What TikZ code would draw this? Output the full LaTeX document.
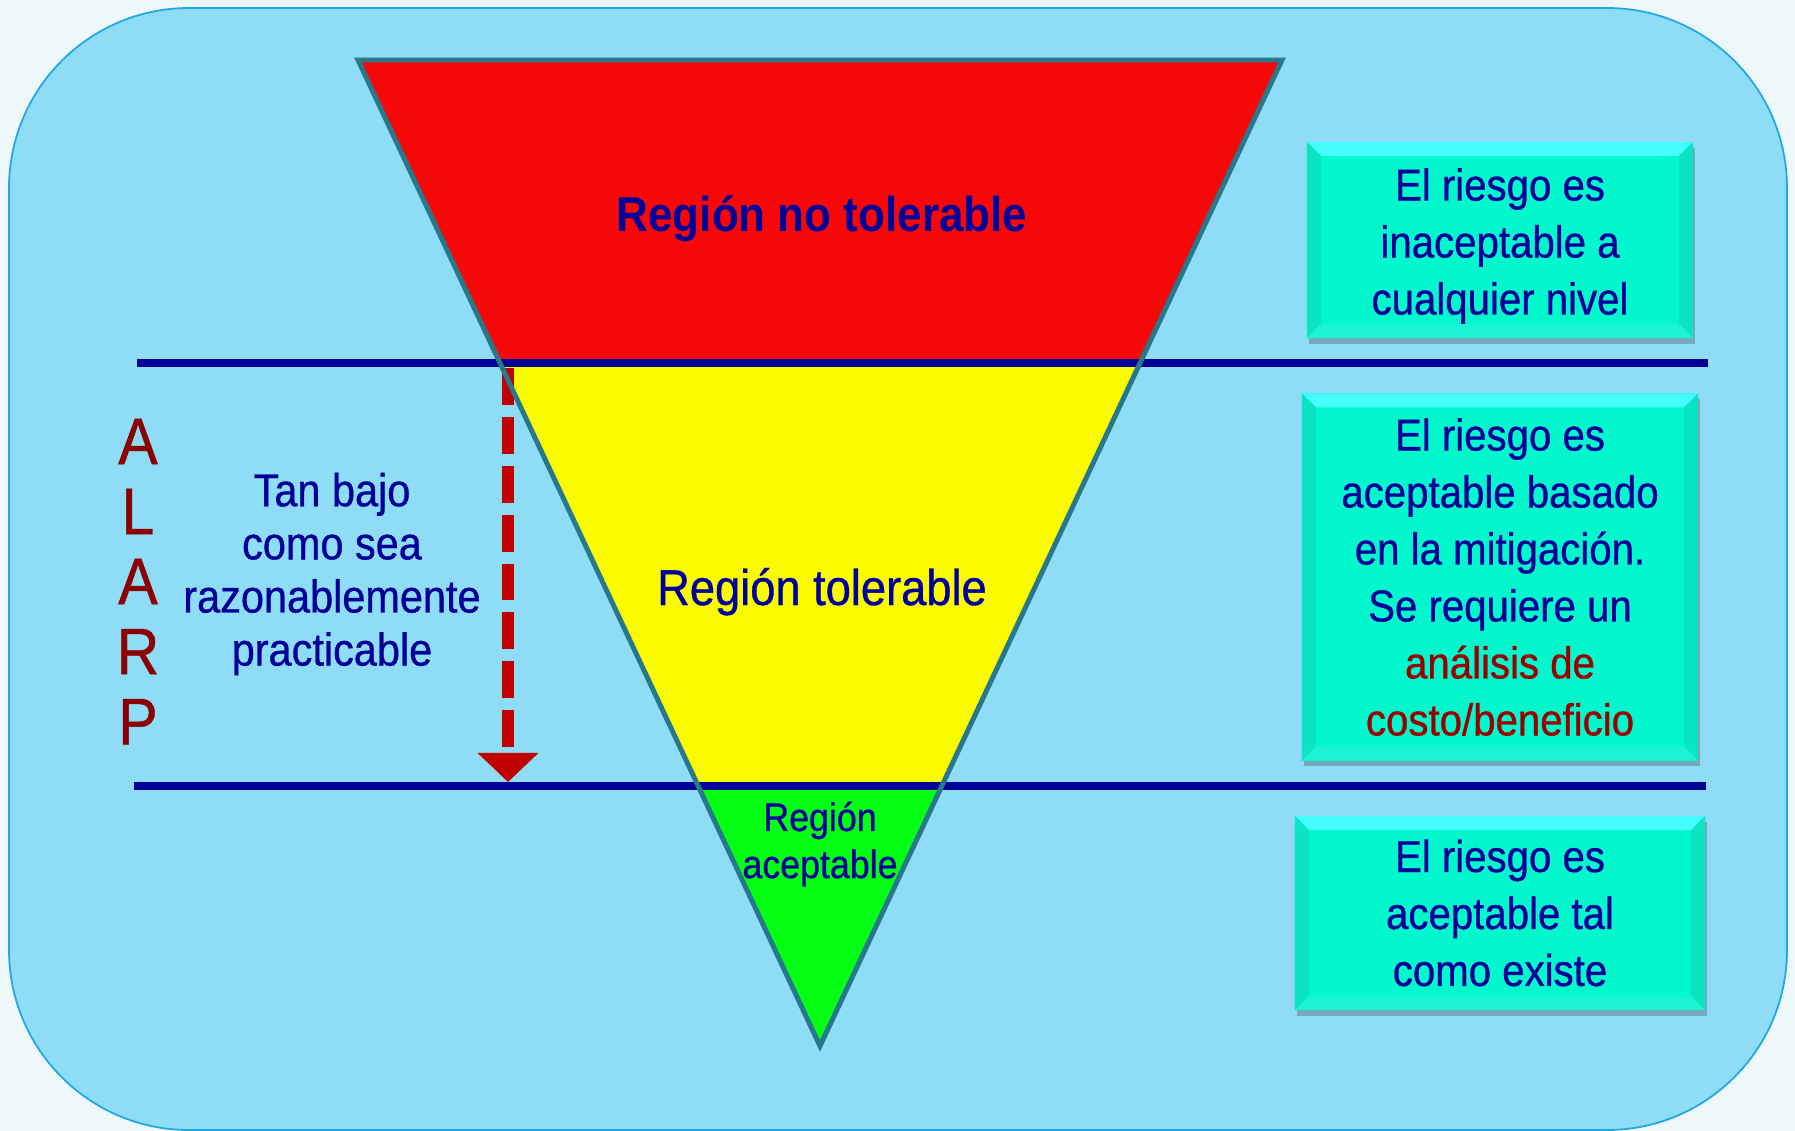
\documentclass[tikz,border=0pt]{standalone}
\usepackage{fontspec}
\setmainfont{Liberation Sans}[FakeStretch=0.9, UprightFeatures={FakeBold=0.7}]
\usetikzlibrary{arrows.meta,shadows}

\definecolor{pagebg}{HTML}{EEF8FA}
\definecolor{panel}{HTML}{8EDCF5}
\definecolor{panelrim}{HTML}{20A8E4}
\definecolor{navy}{HTML}{000099}
\definecolor{alarpred}{HTML}{8B0000}
\definecolor{costred}{HTML}{990000}
\definecolor{edgeteal}{HTML}{27788A}
\definecolor{zonered}{HTML}{F70808}
\definecolor{zoneyellow}{HTML}{FAFA00}
\definecolor{zonegreen}{HTML}{04FF14}
\definecolor{arrowred}{HTML}{C00000}
\definecolor{boxfill}{HTML}{02F8CC}
\definecolor{boxtop}{HTML}{45FFFF}
\definecolor{boxside}{HTML}{0BE4C4}
\definecolor{boxlow}{HTML}{1CF2D4}

\begin{document}
\begin{tikzpicture}[x=0.01cm, y=-0.01cm, node distance=0.7cm,
    divider/.style={draw=navy, line width=2.3pt},
    zone edge/.style={draw=edgeteal, line width=1.4pt, line join=miter},
    alarp arrow/.style={draw=arrowred, line width=3.4pt, dash pattern=on 10.5pt off 3.4pt,
                        -{Triangle[width=16.8pt, length=8.25pt]}},
    alarp letter/.style={text=alarpred, inner sep=0pt, font=\fontsize{18.7}{20}\selectfont},
    zone text/.style={text=navy, inner sep=0pt, align=center},
    riskbox/.style={fill=boxfill, text=navy, align=center, inner sep=0pt,
      font=\fontsize{12.7}{16.2}\selectfont,
      drop shadow={shadow xshift=0.6pt, shadow yshift=-1.6pt, opacity=0.35, fill=black!70},
      path picture={
        \fill[boxtop] (path picture bounding box.north west) -- (path picture bounding box.north east)
          -- ([xshift=-4pt,yshift=-4pt]path picture bounding box.north east)
          -- ([xshift=4pt,yshift=-4pt]path picture bounding box.north west) -- cycle;
        \fill[boxside] (path picture bounding box.north west) -- ([xshift=4pt,yshift=-4pt]path picture bounding box.north west)
          -- ([xshift=4pt,yshift=4pt]path picture bounding box.south west) -- (path picture bounding box.south west) -- cycle;
        \fill[boxside] (path picture bounding box.north east) -- ([xshift=-4pt,yshift=-4pt]path picture bounding box.north east)
          -- ([xshift=-4pt,yshift=4pt]path picture bounding box.south east) -- (path picture bounding box.south east) -- cycle;
        \fill[boxlow] (path picture bounding box.south west) -- ([xshift=4pt,yshift=4pt]path picture bounding box.south west)
          -- ([xshift=-4pt,yshift=4pt]path picture bounding box.south east) -- (path picture bounding box.south east) -- cycle;
      }}]

  \useasboundingbox[fill=pagebg] (0,0) rectangle (1795,1131);
  \draw[fill=panel, draw=panelrim, line width=0.5pt, rounded corners=1.8cm] (9,8) rectangle (1787,1130);

  \coordinate (t1) at (358,60);
  \coordinate (t2) at (1282,60);
  \coordinate (t3) at (820,1046);
  \coordinate (u1) at (500,363);
  \coordinate (u2) at (1140,363);
  \coordinate (w1) at (698.2,786);
  \coordinate (w2) at (941.8,786);

  \fill[zonered] (t1) -- (t2) -- (u2) -- (u1) -- cycle;
  \fill[zoneyellow] (u1) -- (u2) -- (w2) -- (w1) -- cycle;
  \fill[zonegreen] (w1) -- (w2) -- (t3) -- cycle;

  \coordinate (h1) at (137,363);
  \coordinate (h2) at (1708,363);
  \coordinate (h3) at (134,786);
  \coordinate (h4) at (1706,786);
  \draw[divider] (h1) -- (h2);
  \draw[divider] (h3) -- (h4);

  \coordinate (d1) at (508,368);
  \coordinate (d2) at (508,782);
  \draw[alarp arrow] (d1) -- (d2);

  \draw[zone edge] (t1) -- (t2) -- (t3) -- cycle;

  \node[zone text, anchor=base, font=\bfseries\fontsize{13.9}{16}\selectfont] (nt) at (822,232) {Región no tolerable};
  \node[zone text, anchor=base, font=\fontsize{14.3}{17}\selectfont] (to) at (822,605) {Región tolerable};
  \node[zone text, font=\fontsize{11.3}{13.4}\selectfont] (ac) at (820,844) {Región\\aceptable};

  \node[zone text, font=\fontsize{13.1}{15.1}\selectfont] (tb) at (332,574) {Tan bajo\\como sea\\razonablemente\\practicable};

  \node[alarp letter] (a1) at (138,441.5) {A};
  \node[alarp letter] (l) [below of=a1] {L};
  \node[alarp letter] (a2) [below of=l] {A};
  \node[alarp letter] (r) [below of=a2] {R};
  \node[alarp letter] (p) [below of=r] {P};

  \node[riskbox, minimum width=3.86cm, minimum height=1.96cm] (b1) at (1500,240)
    {\rule{0pt}{12.6pt}El riesgo es\\inaceptable a\\cualquier nivel};
  \node[riskbox, minimum width=3.96cm, minimum height=3.67cm] (b2) at (1500,577)
    {El riesgo es\\aceptable basado\\en la mitigación.\\Se requiere un\\\textcolor{costred}{análisis de}\\\textcolor{costred}{costo/beneficio}};
  \node[riskbox, minimum width=4.10cm, minimum height=1.94cm] (b3) at (1500,913)
    {El riesgo es\\aceptable tal\\como existe};

\end{tikzpicture}
\end{document}
